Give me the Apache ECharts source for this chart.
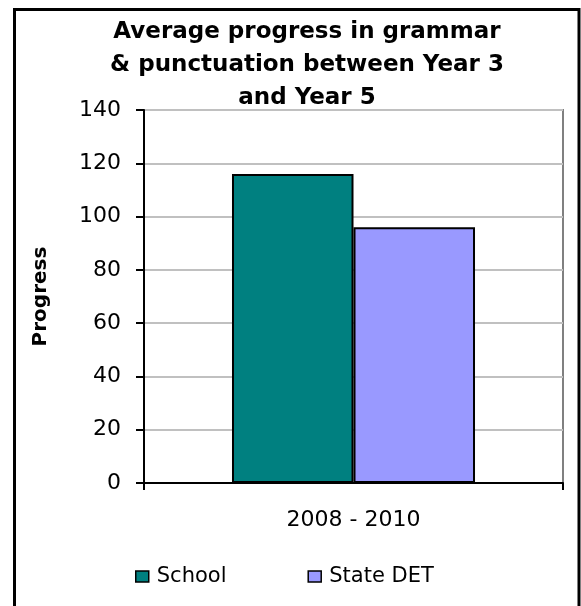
<!DOCTYPE html>
<html>
<head>
<meta charset="utf-8">
<script src="https://cdn.jsdelivr.net/npm/echarts@6/dist/echarts.min.js"></script>
<style>
html,body{margin:0;padding:0;background:#fff;}
#chart{width:581px;height:606px;}
</style>
</head>
<body>
<div id="chart"></div>
<script>
const categories = ['2008 - 2010'];
const schoolValues = [116];
const stateValues = [96];
const seriesNames = ['School', 'State DET'];
const titleText = 'Average progress in grammar\n& punctuation between Year 3\nand Year 5';
const yAxisName = 'Progress';

const FONT = '"DejaVu Sans", "Liberation Sans", sans-serif';
const chart = echarts.init(document.getElementById('chart'), null, {renderer: 'canvas'});
chart.setOption({
  animation: false,
  backgroundColor: '#ffffff',
  title: {
    text: titleText,
    left: 307,
    top: 16,
    padding: 0,
    textAlign: 'center',
    textStyle: {fontFamily: FONT, fontWeight: 'bold', fontSize: 23, lineHeight: 33, color: '#000'}
  },
  graphic: [{
    type: 'rect',
    shape: {x: 14.5, y: 9.5, width: 564.5, height: 620},
    style: {fill: 'none', stroke: '#000', lineWidth: 3},
    silent: true,
    z: 100
  }],
  legend: {
    data: seriesNames,
    left: 135,
    top: 566,
    padding: 0,
    itemWidth: 13,
    itemHeight: 11,
    itemGap: 81,
    icon: 'rect',
    itemStyle: {borderColor: '#000', borderWidth: 1.5},
    textStyle: {fontFamily: FONT, fontSize: 21, color: '#000', padding: [0, 0, 0, 3]}
  },
  grid: {
    left: 144, right: 18, top: 110, bottom: 123,
    show: true, borderColor: '#808080', borderWidth: 2, backgroundColor: '#fff'
  },
  xAxis: {
    type: 'category',
    data: categories,
    axisLine: {lineStyle: {color: '#000', width: 2}},
    axisTick: {show: true, length: 7, lineStyle: {color: '#000', width: 2}},
    axisLabel: {margin: 26, fontFamily: FONT, fontSize: 22, color: '#000'}
  },
  yAxis: {
    type: 'value',
    min: 0, max: 140, interval: 20,
    name: yAxisName,
    nameLocation: 'middle',
    nameRotate: 90,
    nameGap: 93,
    nameTextStyle: {fontFamily: FONT, fontWeight: 'bold', fontSize: 20, color: '#000'},
    axisLine: {show: true, lineStyle: {color: '#000', width: 2}},
    axisTick: {show: true, length: 8, lineStyle: {color: '#000', width: 2}},
    axisLabel: {margin: 23, fontFamily: FONT, fontSize: 22, color: '#000'},
    splitLine: {lineStyle: {color: '#c0c0c0', width: 2}}
  },
  series: [
    {
      name: seriesNames[0], type: 'bar', data: schoolValues,
      barGap: '0%', barCategoryGap: '42%',
      itemStyle: {color: '#008080', borderColor: '#000', borderWidth: 2}
    },
    {
      name: seriesNames[1], type: 'bar', data: stateValues,
      barGap: '0%', barCategoryGap: '42%',
      itemStyle: {color: '#9999ff', borderColor: '#000', borderWidth: 2}
    }
  ]
});
</script>
</body>
</html>
